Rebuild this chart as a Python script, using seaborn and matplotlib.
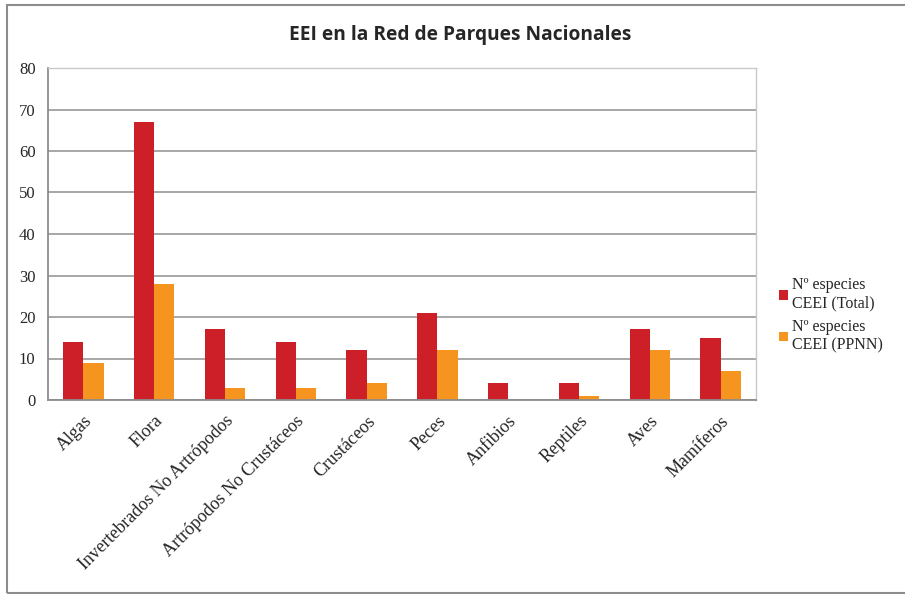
import numpy as np
import pandas as pd
import matplotlib
matplotlib.use('Agg')
import matplotlib.pyplot as plt
from matplotlib.patches import Rectangle
import seaborn as sns

categorias = ['Algas', 'Flora', 'Invertebrados No Artrópodos', 'Artrópodos No Crustáceos',
              'Crustáceos', 'Peces', 'Anfibios', 'Reptiles', 'Aves', 'Mamíferos']
total = [14, 67, 17, 14, 12, 21, 4, 4, 17, 15]
ppnn = [9, 28, 3, 3, 4, 12, 0, 1, 12, 7]
series = ['Nº especies\nCEEI (Total)', 'Nº especies\nCEEI (PPNN)']
colores = ['#CC1F27', '#F5951F']

df = pd.DataFrame({
    'categoria': categorias * 2,
    'valor': total + ppnn,
    'serie': [series[0]] * len(categorias) + [series[1]] * len(categorias),
})

sns.set_style('white')
plt.rcParams['font.family'] = ['Liberation Serif', 'DejaVu Serif']

fig = plt.figure(figsize=(9.05, 5.94), dpi=100)
ax = fig.add_axes([48 / 905, 1 - 400 / 594, 708 / 905, 332 / 594])

sns.barplot(data=df, x='categoria', y='valor', hue='serie', palette=colores,
            width=0.57, gap=0, saturation=1, ax=ax, linewidth=0)

ax.set_ylim(0, 80)
ax.set_xlim(-0.5, len(categorias) - 0.5)
ax.set_yticks(range(0, 81, 10))
ax.yaxis.grid(True, color='#A0A0A0', linewidth=1.3)
ax.set_axisbelow(True)
ax.set_xlabel('')
ax.set_ylabel('')

# ticks between categories, as in the original
ax.set_xticks(np.arange(len(categorias)))
ax.set_xticklabels(categorias, rotation=45, ha='right', rotation_mode='anchor', fontsize=13)
ax.set_xticks(np.arange(-0.5, len(categorias), 1), minor=True)
ax.tick_params(axis='x', which='major', length=0, pad=9)
ax.tick_params(axis='x', which='minor', length=5, color='#808080', width=1)
ax.tick_params(axis='y', length=5, color='#808080', width=1, labelsize=12, pad=4)

for side in ['left', 'bottom']:
    ax.spines[side].set_color('#8C8C8C')
    ax.spines[side].set_linewidth(1.3)
for side in ['top', 'right']:
    ax.spines[side].set_visible(True)
    ax.spines[side].set_color('#C8C8C8')
    ax.spines[side].set_linewidth(1)

fig.text(460 / 905, 1 - 35 / 594, 'EEI en la Red de Parques Nacionales',
         ha='center', va='center', fontsize=13.8, fontweight='bold',
         family=['Open Sans', 'DejaVu Sans'])

leg = ax.legend(loc='center left', bbox_to_anchor=(1.012, 0.255), frameon=False,
                fontsize=11.5, handlelength=0.55, handleheight=0.55, handletextpad=0.25,
                labelspacing=0.45)
for t in leg.get_texts():
    t.set_linespacing(1.2)

fig.patches.append(Rectangle((7 / 905, 1 / 594), 1.0, 1 - 6 / 594, transform=fig.transFigure,
                             fill=False, edgecolor='#8C8C8C', linewidth=1.5))

fig.savefig('out.png', dpi=100)
